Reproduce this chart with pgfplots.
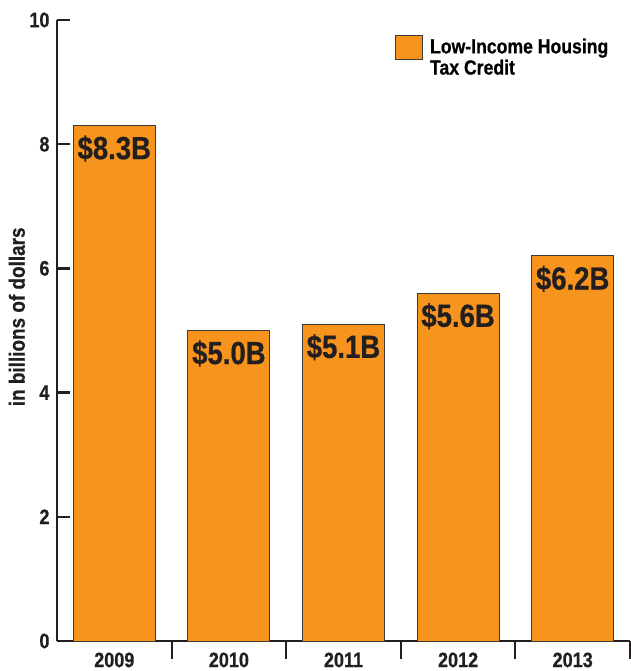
\documentclass[border=0pt]{standalone}
\usepackage{pgfplots}
\pgfplotsset{compat=1.18}
\usepackage{fontspec}
\setmainfont{Liberation Sans}
\newfontfamily\cb[FakeStretch=0.86,FakeBold=0.6]{Liberation Sans Bold}
\definecolor{barorange}{HTML}{F7941E}
\definecolor{bardark}{HTML}{3A3A3A}
\definecolor{axdark}{HTML}{231F20}
\begin{document}
\begin{tikzpicture}
\begin{axis}[
  name=ax,
  scale only axis,
  width=573bp, height=621bp,
  xmin=-0.5, xmax=4.5, ymin=0, ymax=10,
  enlarge x limits=false,
  axis x line=bottom, axis y line=left,
  axis line style={-, line width=2.5bp, color=axdark},
  tick align=inside,
  major tick length=13bp,
  minor tick length=18bp,
  every major tick/.append style={line width=2.5bp, color=axdark},
  every minor tick/.append style={line width=2bp, color=axdark},
  every major x tick/.append style={draw=none},
  xtick={0,1,2,3,4},
  xticklabels={2009,2010,2011,2012,2013},
  minor xtick={0.5,1.5,2.5,3.5,4.5},
  ytick={0,2,4,6,8,10},
  /pgf/number format/assume math mode=true,
  xticklabel style={font=\cb\fontsize{21bp}{25bp}\selectfont, color=axdark, yshift=5bp},
  yticklabel style={font=\cb\fontsize{21bp}{25bp}\selectfont, color=axdark, xshift=-4bp},
  ylabel={in billions of dollars},
  ylabel style={font=\cb\fontsize{22bp}{26bp}\selectfont, color=axdark, at={(axis description cs:-0.07,0.522)}, anchor=center},
  ybar, bar width=0.715,
  point meta=y,
  nodes near coords={\$\pgfmathprintnumber[fixed,fixed zerofill,precision=1]{\pgfplotspointmeta}B},
  every node near coord/.append style={font=\cb\fontsize{32bp}{36bp}\selectfont, color=axdark, anchor=north, yshift=-6bp},
  legend style={draw=none, fill=none, inner sep=0pt, outer sep=0pt,
    at={(rel axis cs:0.590,0.976)}, anchor=north west,
    font=\cb\fontsize{20.5bp}{21bp}\selectfont,
    nodes={inner sep=0pt, anchor=base west}, column sep=7bp},
  legend image code/.code={\draw[fill=barorange, draw=bardark, line width=1bp] (0bp,-6bp) rectangle (27bp,18bp);},
]
\addplot[fill=barorange, draw=bardark, line width=1bp] coordinates {(0,8.3) (1,5.0) (2,5.1) (3,5.6) (4,6.2)};
\addlegendentry{\begin{tabular}[t]{@{}l@{}}Low-Income Housing\\Tax Credit\end{tabular}}
\end{axis}
\pgfresetboundingbox
\path ([xshift=-57bp,yshift=-30bp]ax.south west) rectangle ([xshift=1bp,yshift=20bp]ax.north east);
\end{tikzpicture}
\end{document}
